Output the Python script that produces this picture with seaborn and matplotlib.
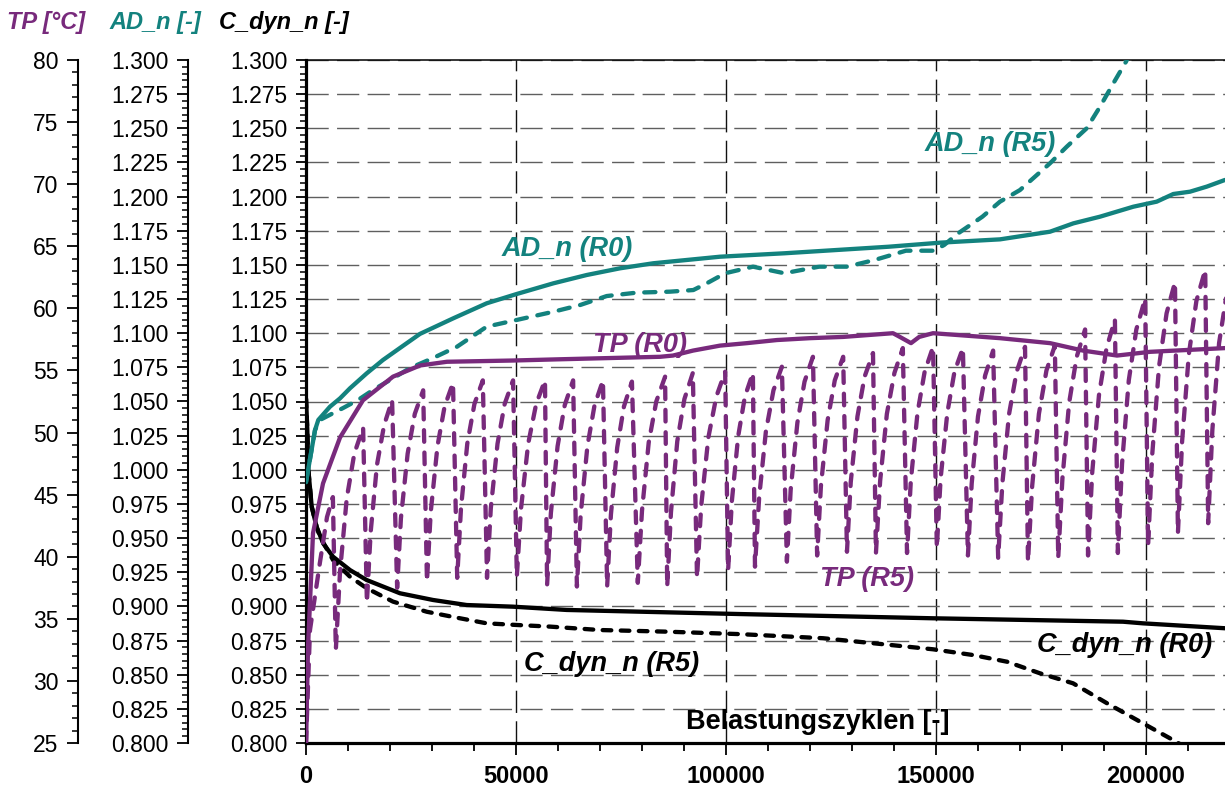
import matplotlib
matplotlib.use("Agg")
import matplotlib.pyplot as plt
import pandas as pd
import seaborn as sns
from matplotlib.ticker import MultipleLocator, FormatStrFormatter

# ---------------- data ----------------
# AD_n, solid (R0) and dashed (R5)
ad_r0_cycles = [0, 2140, 2930, 5710, 8100, 10480, 14450, 18330, 22380, 27140,
                35070, 43030, 50170, 58880, 66830, 74760, 82690, 90640, 98570,
                113880, 126290, 138690, 151120, 165240, 177150, 182690, 189050,
                196980, 202550, 206500, 210480, 214460, 218810]
ad_r0_values = [0.991, 1.029, 1.0365, 1.0462, 1.0523, 1.0597, 1.0706, 1.0804, 1.0892,
                1.0995, 1.1109, 1.1219, 1.1287, 1.1365, 1.1426, 1.1475, 1.1512, 1.1536,
                1.1560, 1.1585, 1.1609, 1.1633, 1.1663, 1.1687, 1.1743, 1.1804, 1.1853,
                1.1926, 1.1963, 1.2019, 1.2036, 1.2073, 1.2122]

ad_r5_cycles = [0, 2140, 3330, 8810, 12380, 15950, 20000, 24760, 30240, 35950,
                43030, 50170, 58880, 65240, 71600, 78740, 86670, 92220, 95410,
                99810, 106430, 113880, 122150, 128770, 135390, 142840, 149460,
                151950, 155270, 161050, 165240, 169990, 177150, 181120, 185880,
                189050, 192220, 195240, 197000]
ad_r5_values = [0.991, 1.029, 1.0365, 1.0452, 1.0511, 1.0584, 1.0657, 1.0745, 1.0818,
                1.0901, 1.1048, 1.1097, 1.1157, 1.1206, 1.1272, 1.1297, 1.1304, 1.1316,
                1.1365, 1.1439, 1.1487, 1.1439, 1.1487, 1.1487, 1.1536, 1.1604, 1.1604,
                1.1646, 1.1731, 1.1853, 1.1963, 1.2048, 1.2244, 1.2365, 1.2500,
                1.2658, 1.2829, 1.2988, 1.3100]

# TP in degC, solid (R0) and dashed (R5)
tp_r0_cycles = [0, 480, 1670, 4050, 8100, 13570, 20710, 27140, 33570, 49290, 60480,
                84290, 87380, 92150, 98570, 105000, 112140, 120000, 127860, 139760,
                141400, 144050, 146000, 149290, 165240, 177150, 185000, 193100,
                200960, 218810]
tp_r0_values = [25.0, 32.7, 41.9, 45.9, 49.6, 52.6, 54.5, 55.4, 55.7, 55.8, 55.9,
                56.1, 56.2, 56.6, 57.0, 57.2, 57.45, 57.6, 57.7, 58.0,
                57.7, 57.2, 57.7, 58.0, 57.6, 57.2, 56.6, 56.2, 56.5, 56.8]

tp_r5_cycles = [
    0, 950, 3300, 5000, 6400,
    7100, 8100, 9700, 11500, 13600,
    14500, 15400, 16900, 18600, 20500,
    21700, 22600, 24200, 25900, 27900,
    28800, 29700, 31300, 33000, 35000,
    36000, 36900, 38400, 40100, 42100,
    43100, 44000, 45600, 47300, 49300,
    50200, 51200, 52900, 54800, 56900,
    57400, 58300, 59900, 61600, 63600,
    64500, 65400, 67000, 68700, 70700,
    71700, 72600, 74100, 75700, 77600,
    79000, 80000, 81600, 83400, 85500,
    86000, 86900, 88400, 90100, 92100,
    93100, 94100, 95800, 97700, 99800,
    100500, 101400, 102900, 104500, 106400,
    106900, 107900, 109500, 111300, 113300,
    114500, 115400, 117000, 118700, 120700,
    121700, 122600, 124200, 125900, 127900,
    128800, 129700, 131300, 133000, 135000,
    135700, 136700, 138300, 140100, 142100,
    143100, 144000, 145600, 147300, 149300,
    150200, 151100, 152700, 154400, 156400,
    157600, 158500, 160000, 161700, 163600,
    164800, 165800, 167400, 169200, 171200,
    171900, 172900, 174500, 176300, 178300,
    179100, 180100, 181700, 183500, 185500,
    186200, 187200, 188800, 190600, 192600,
    193300, 194300, 195900, 197700, 199800,
    200500, 201500, 203100, 204900, 206900,
    207600, 208600, 210200, 212000, 214100,
    214800, 215800, 217400, 219500,
]
tp_r5_values = [
    25.0, 34.1, 39.5, 43.2, 44.8,
    32.5, 38.8, 44.7, 48.3, 50.4,
    36.3, 42.0, 47.4, 50.6, 52.6,
    37.5, 43.1, 48.3, 51.5, 53.4,
    38.0, 43.6, 48.9, 52.1, 54.0,
    38.3, 43.9, 49.1, 52.3, 54.2,
    38.3, 43.9, 49.1, 52.3, 54.2,
    38.4, 43.9, 49.1, 52.3, 54.2,
    37.7, 43.5, 48.9, 52.2, 54.2,
    37.6, 43.4, 48.9, 52.2, 54.2,
    37.6, 43.4, 48.8, 52.1, 54.1,
    37.9, 43.7, 49.2, 52.5, 54.5,
    37.6, 43.6, 49.3, 52.7, 54.8,
    38.3, 44.1, 49.6, 52.9, 54.9,
    38.9, 44.5, 49.7, 52.9, 54.8,
    39.2, 44.8, 50.1, 53.4, 55.3,
    39.6, 45.4, 50.8, 54.1, 56.1,
    40.1, 45.7, 51.0, 54.2, 56.1,
    40.4, 46.0, 51.3, 54.5, 56.4,
    40.3, 46.1, 51.5, 54.8, 56.8,
    40.3, 46.1, 51.6, 54.9, 56.9,
    40.7, 46.3, 51.6, 54.9, 56.8,
    40.1, 45.9, 51.3, 54.6, 56.6,
    39.9, 45.9, 51.5, 54.9, 56.9,
    39.6, 45.7, 51.5, 55.0, 57.0,
    39.9, 46.3, 52.4, 56.1, 58.3,
    40.1, 46.8, 53.0, 56.8, 59.1,
    40.3, 47.5, 54.2, 58.3, 60.8,
    40.9, 48.3, 55.3, 59.6, 62.1,
    41.9, 49.3, 56.3, 60.6, 63.1,
    42.7, 50.2, 57.2, 61.8,
]

# C_dyn_n, solid (R0) and dashed (R5)
cd_r0_cycles = [0, 300, 550, 1360, 2550, 4120, 6430, 10480, 14450, 22380, 30240,
                38260, 49290, 62070, 103340, 149290, 194530, 199290, 218810]
cd_r0_values = [1.052, 1.030, 1.000, 0.973, 0.958, 0.946, 0.9364, 0.9266, 0.9193,
                0.9096, 0.9047, 0.9010, 0.8998, 0.8974, 0.8944, 0.8913, 0.8888,
                0.8876, 0.8840]

cd_r5_cycles = [0, 300, 550, 1360, 2550, 3330, 6430, 10480, 14450, 20710, 28740,
                36670, 43030, 50170, 58100, 70000, 85950, 103340, 123100, 139050,
                149290, 158810, 166910, 174770, 182630, 190720, 198580, 206440, 209300]
cd_r5_values = [1.052, 1.030, 1.000, 0.973, 0.958, 0.951, 0.934, 0.9217, 0.9133,
                0.9035, 0.8961, 0.8913, 0.8876, 0.8864, 0.8852, 0.8827, 0.8815,
                0.8797, 0.8767, 0.8718, 0.8686, 0.8644, 0.8595, 0.8510, 0.8437,
                0.8291, 0.8156, 0.8022, 0.7970]

x_ticks = [0, 50000, 100000, 150000, 200000]

# ---------------- style ----------------
sns.set_theme(style="white")
plt.rcParams["font.family"] = ["Liberation Sans", "DejaVu Sans"]

PURPLE = "#782A7C"
TEAL = "#13827E"
BLACK = "#000000"
LW = 3.1

W, H = 1225, 787
fig = plt.figure(figsize=(W / 100, H / 100), dpi=100)
ax = fig.add_axes([306 / W, 44 / H, 919 / W, 683 / H])
ax_ad = ax.twinx()
ax_tp = ax.twinx()


def draw(axis, xs, ys, color, dashes=None):
    df = pd.DataFrame({"x": xs, "y": ys})
    kw = dict(color=color, linewidth=LW, solid_capstyle="round",
              solid_joinstyle="round")
    if dashes is not None:
        kw.update(linestyle=(0, dashes), dash_capstyle="round",
                  dash_joinstyle="round")
    sns.lineplot(data=df, x="x", y="y", ax=axis, estimator=None, sort=False, **kw)


draw(ax, cd_r0_cycles, cd_r0_values, BLACK)
draw(ax, cd_r5_cycles, cd_r5_values, BLACK, (2.0, 2.2))
draw(ax_ad, ad_r0_cycles, ad_r0_values, TEAL)
draw(ax_ad, ad_r5_cycles, ad_r5_values, TEAL, (2.6, 2.5))
draw(ax_tp, tp_r5_cycles, tp_r5_values, PURPLE, (2.7, 2.5))
draw(ax_tp, tp_r0_cycles, tp_r0_values, PURPLE)

for a in (ax, ax_ad, ax_tp):
    a.set_xlabel("")
    a.set_ylabel("")

# ---- main axis (C_dyn_n) ----
ax.set_xlim(0, 218810)
ax.set_ylim(0.8, 1.3)
ax.xaxis.set_major_locator(MultipleLocator(50000))
ax.xaxis.set_minor_locator(MultipleLocator(10000))
ax.yaxis.set_major_locator(MultipleLocator(0.025))
ax.yaxis.set_minor_locator(MultipleLocator(0.005))
ax.yaxis.set_major_formatter(FormatStrFormatter("%.3f"))
ax.set_xticks(x_ticks)
ax.set_xticklabels([str(v) for v in x_ticks], fontweight="bold", fontsize=17)
ax.tick_params(axis="y", which="major", direction="out", length=7.5, width=1.3,
               labelsize=16.5, pad=6, colors="black")
ax.tick_params(axis="y", which="minor", direction="out", length=4, width=1.1,
               left=True, colors="black")
ax.tick_params(axis="x", which="major", direction="out", length=8.5, width=1.3,
               pad=7, colors="black", bottom=True)
ax.tick_params(axis="x", which="minor", direction="out", length=6, width=1.3,
               bottom=True, colors="black")
ax.grid(False)
ax.grid(True, which="major", axis="y", color="#5f5f5f", linestyle=(0, (16, 6)),
        linewidth=1.0)
ax.grid(True, which="major", axis="x", color="#111111", linestyle=(0, (16, 6)),
        linewidth=1.0)
ax.set_axisbelow(True)
for side, lw in (("left", 2.3), ("bottom", 2.3), ("top", 1.1)):
    ax.spines[side].set_visible(True)
    ax.spines[side].set_color("black")
    ax.spines[side].set_linewidth(lw)
ax.spines["right"].set_visible(False)


def side_axis(a, offset_px, lo, hi, major, minor, fmt):
    a.set_ylim(lo, hi)
    a.grid(False)
    for s in ("right", "top", "bottom"):
        a.spines[s].set_visible(False)
    a.spines["left"].set_visible(True)
    a.spines["left"].set_position(("axes", -offset_px / 919))
    a.spines["left"].set_color("black")
    a.spines["left"].set_linewidth(1.5)
    a.yaxis.set_ticks_position("left")
    a.yaxis.set_label_position("left")
    a.yaxis.set_major_locator(MultipleLocator(major))
    a.yaxis.set_minor_locator(MultipleLocator(minor))
    a.yaxis.set_major_formatter(FormatStrFormatter(fmt))
    a.tick_params(axis="y", which="major", direction="out", length=8, width=1.3,
                  labelsize=16.5, pad=6, colors="black", left=True, right=False)
    a.tick_params(axis="y", which="minor", direction="out", length=4.3, width=1.1,
                  colors="black", left=True, right=False)
    a.patch.set_visible(False)


side_axis(ax_ad, 118, 0.8, 1.3, 0.025, 0.005, "%.3f")
side_axis(ax_tp, 228, 25, 80, 5, 1, "%d")

# ---- axis titles above the scales ----
title_kw = dict(fontweight="bold", fontstyle="italic", fontsize=17,
                ha="center", va="center")
fig.text(46 / W, 1 - 23 / H, "TP [°C]", color=PURPLE, **title_kw)
fig.text(155 / W, 1 - 23 / H, "AD_n [-]", color=TEAL, **title_kw)
fig.text(284 / W, 1 - 23 / H, "C_dyn_n [-]", color=BLACK, **title_kw)

# ---- curve labels (main-axis data coordinates) ----
label_kw = dict(fontweight="bold", fontstyle="italic", fontsize=19.5,
                ha="center", va="center", transform=ax.transData, zorder=10)
ax_tp.text(62070, 1.162, "AD_n (R0)", color=TEAL, **label_kw)
ax_tp.text(162860, 1.2385, "AD_n (R5)", color=TEAL, **label_kw)
ax_tp.text(79520, 1.0914, "TP (R0)", color=PURPLE, **label_kw)
ax_tp.text(133690, 0.9197, "TP (R5)", color=PURPLE, **label_kw)
ax_tp.text(72790, 0.8578, "C_dyn_n (R5)", color=BLACK, **label_kw)
ax_tp.text(195010, 0.8717, "C_dyn_n (R0)", color=BLACK, **label_kw)
ax_tp.text(121790, 0.8156, "Belastungszyklen [-]", color=BLACK, fontweight="bold",
           fontsize=19.5, ha="center", va="center", transform=ax.transData, zorder=10)

fig.savefig("out.png", dpi=100)
